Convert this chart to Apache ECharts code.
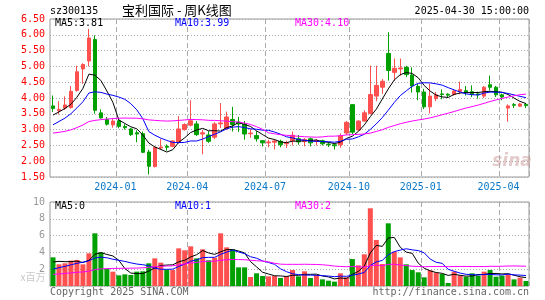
<!DOCTYPE html>
<html>
<head>
<meta charset="utf-8">
<script src="https://cdn.jsdelivr.net/npm/echarts@6/dist/echarts.min.js"></script>
<style>
html,body{margin:0;padding:0;background:#fff;}
#c{width:545px;height:300px;}
</style>
</head>
<body>
<div id="c"></div>
<script>
// ---- data (weekly K-line, 宝利国际 sz300135) ----
const dates = [
'2023-10-20','2023-10-27','2023-11-03','2023-11-10','2023-11-17','2023-11-24','2023-12-01','2023-12-08','2023-12-15','2023-12-22',
'2023-12-29','2024-01-05','2024-01-12','2024-01-19','2024-01-26','2024-02-02','2024-02-08','2024-02-23','2024-03-01','2024-03-08',
'2024-03-15','2024-03-22','2024-03-29','2024-04-03','2024-04-12','2024-04-19','2024-04-26','2024-04-30','2024-05-10','2024-05-17',
'2024-05-24','2024-05-31','2024-06-07','2024-06-14','2024-06-21','2024-06-28','2024-07-05','2024-07-12','2024-07-19','2024-07-26',
'2024-08-02','2024-08-09','2024-08-16','2024-08-23','2024-08-30','2024-09-06','2024-09-13','2024-09-20','2024-09-27','2024-09-30',
'2024-10-11','2024-10-18','2024-10-25','2024-11-01','2024-11-08','2024-11-15','2024-11-22','2024-11-29','2024-12-06','2024-12-13',
'2024-12-20','2024-12-27','2025-01-03','2025-01-10','2025-01-17','2025-01-24','2025-01-27','2025-02-07','2025-02-14','2025-02-21',
'2025-02-28','2025-03-07','2025-03-14','2025-03-21','2025-03-28','2025-04-03','2025-04-11','2025-04-18','2025-04-25','2025-04-30'];

const opens = [
3.75,3.60,3.68,3.70,4.24,4.92,5.17,5.85,3.53,3.32,
3.15,3.28,3.10,3.02,2.90,2.87,2.29,1.83,2.42,2.47,
2.47,2.60,3.00,3.14,3.18,2.86,2.83,2.76,3.18,3.04,
3.32,3.24,3.17,2.87,2.81,2.65,2.58,2.60,2.63,2.55,
2.65,2.71,2.62,2.71,2.62,2.65,2.54,2.52,2.52,2.89,
3.79,2.99,3.27,3.51,4.06,4.34,5.41,4.81,4.92,4.97,
4.73,4.37,4.19,3.72,3.98,4.13,4.12,4.11,4.21,4.23,
4.20,4.13,4.06,4.42,4.34,4.10,3.68,3.79,3.74,3.80];
const closes = [
3.67,3.64,3.78,4.21,4.83,5.06,5.90,3.61,3.37,3.17,
3.27,3.10,3.06,2.84,2.86,2.28,1.84,2.44,2.45,2.44,
2.64,3.02,3.16,3.28,2.84,2.90,2.63,3.18,3.21,3.40,
3.16,3.18,2.86,2.89,2.71,2.58,2.61,2.64,2.52,2.58,
2.82,2.61,2.69,2.58,2.65,2.55,2.52,2.49,2.80,3.23,
2.92,3.27,3.53,4.11,4.40,4.53,4.87,4.94,4.95,4.74,
4.38,4.19,3.72,4.06,4.10,4.11,4.09,4.22,4.27,4.17,
4.11,4.10,4.34,4.34,4.10,4.03,3.75,3.77,3.81,3.76];
const highs = [
4.08,3.90,4.05,4.38,5.02,5.10,6.19,5.98,3.64,3.40,
3.35,3.34,3.17,3.05,2.98,2.94,2.36,2.47,2.71,2.53,
2.66,3.43,3.20,3.93,3.27,2.99,2.95,3.24,3.84,3.57,
3.72,3.40,3.27,3.02,2.95,2.67,2.68,2.70,2.68,2.65,
2.94,2.83,2.73,2.75,2.70,2.68,2.60,2.57,2.88,3.27,
3.80,3.30,3.61,5.02,5.02,4.60,6.08,5.25,5.25,5.02,
4.97,4.45,4.29,4.45,4.19,4.27,4.15,4.27,4.52,4.38,
4.40,4.20,4.38,4.71,4.38,4.14,3.80,3.84,3.84,3.84];
const lows = [
3.56,3.48,3.62,3.66,4.20,4.45,5.00,3.50,3.35,3.13,
3.06,3.04,3.00,2.80,2.60,2.26,1.58,1.80,2.36,2.33,
2.44,2.56,2.97,3.10,2.80,2.22,2.58,2.70,3.05,2.99,
2.94,2.93,2.68,2.74,2.62,2.47,2.44,2.37,2.44,2.42,
2.50,2.52,2.47,2.47,2.50,2.50,2.45,2.37,2.42,2.83,
2.86,2.96,3.25,3.48,3.90,4.13,4.55,4.55,4.70,4.66,
4.17,3.93,3.65,3.51,3.90,3.96,4.00,4.08,4.12,4.08,
4.03,3.98,4.00,4.24,4.03,3.93,3.25,3.68,3.72,3.68];
// volume, 百万
const volumes = [
3.41,2.58,2.70,3.02,3.10,2.58,3.89,6.27,4.01,2.02,
1.71,1.27,1.39,1.31,1.71,1.75,2.70,3.29,2.78,1.94,
1.90,4.48,4.25,4.72,3.29,4.37,3.06,3.37,6.27,4.60,
4.37,2.22,2.22,1.07,1.51,1.19,1.15,1.19,0.95,1.19,
1.90,1.15,1.75,0.95,1.31,0.79,0.63,0.52,1.51,1.03,
3.21,2.46,3.77,9.25,5.48,2.62,7.46,4.09,3.41,2.58,
1.90,1.63,1.03,1.87,1.59,1.43,0.36,1.71,1.27,1.11,
1.51,1.23,1.71,1.90,1.11,1.23,1.39,0.79,0.99,0.60];
// weeks before the window (only used to seed the moving averages)
const priorCloses = [
2.92,2.85,2.78,2.70,2.62,2.58,2.55,2.63,2.68,2.73,
2.80,2.88,2.95,2.90,2.84,2.86,2.92,2.83,2.72,2.45,
2.58,2.70,2.82,2.98,3.12,3.14,3.23,3.55,3.71];
const priorVolumes = [
1.2,1.0,0.9,1.1,1.3,1.0,0.9,1.1,1.2,1.2,
1.0,1.1,0.9,1.2,1.0,0.9,1.3,1.1,1.0,1.1,
1.0,1.1,1.2,1.3,1.3,2.2,2.9,3.0,2.79];
const quarterMonths = ['01','04','07','10'];

// ---- derived ----
function movingAvg(prior, vals, n){
  const all = prior.concat(vals);
  const out = [];
  for(let i=prior.length;i<all.length;i++){
    if(i-n+1<0){out.push('-');continue;}
    let s=0; for(let k=i-n+1;k<=i;k++) s+=all[k];
    out.push(+(s/n).toFixed(3));
  }
  return out;
}
const labelIdx = [];
dates.forEach((d,i)=>{
  const m = d.slice(5,7);
  if(i>0 && m!==dates[i-1].slice(5,7) && quarterMonths.includes(m)) labelIdx.push(i);
});
const showAt = (i)=>labelIdx.indexOf(i)>=0;
const UP='#ff5050', DOWN='#00a000';
const kData = dates.map((d,i)=>[opens[i],closes[i],lows[i],highs[i]]);
const volData = volumes.map((v,i)=>({value:v,itemStyle:{color: closes[i]>=opens[i]?UP:DOWN}}));
const MONO='DejaVu Sans Mono';

const chart = echarts.init(document.getElementById('c'),null,{renderer:'canvas'});
const splitV = {show:true, interval:(i)=>showAt(i), lineStyle:{color:'#aaaaaa', width:1, type:[5,3]}};
function lineSeries(data,color,xi,yi){
  return {type:'line',xAxisIndex:xi,yAxisIndex:yi,data:data,symbol:'none',smooth:false,
    lineStyle:{width:1,color:color},itemStyle:{color:color},silent:true,z:5};
}
function txt(text,x,y,color,size,align,family){
  return {type:'text',x:x,y:y,silent:true,z:100,style:{text:text,fill:color,
    font:size+'px "'+(family||MONO)+'"',textAlign:align||'left',textVerticalAlign:'middle'}};
}
chart.setOption({
  animation:false,
  backgroundColor:'#ffffff',
  grid:[
    {left:50,right:16,top:19,height:158,show:true,borderColor:'#999999',borderWidth:1,backgroundColor:'transparent'},
    {left:50,right:16,top:202,height:84,show:true,borderColor:'#999999',borderWidth:1,backgroundColor:'transparent'}
  ],
  xAxis:[
    {type:'category',gridIndex:0,data:dates,boundaryGap:true,
     axisLine:{show:false},axisTick:{show:false},
     axisLabel:{interval:(i)=>showAt(i),formatter:(v)=>v.slice(0,7),color:'#0a78c8',
       fontFamily:MONO,fontSize:10,margin:5,padding:[0,7,0,0]},
     splitLine:splitV},
    {type:'category',gridIndex:1,data:dates,boundaryGap:true,
     axisLine:{show:false},axisTick:{show:false},axisLabel:{show:false},
     splitLine:splitV}
  ],
  yAxis:[
    {type:'value',gridIndex:0,min:1.5,max:6.5,interval:0.5,
     axisLine:{show:false},axisTick:{show:false},
     axisLabel:{color:'#ff0000',fontFamily:MONO,fontSize:10,margin:5,formatter:(v)=>v.toFixed(2)},
     splitLine:{show:true,lineStyle:{color:'#aaaaaa',width:1,type:[1,2]}}},
    {type:'value',gridIndex:1,min:0,max:10,interval:2,
     axisLine:{show:false},axisTick:{show:false},
     axisLabel:{color:'#999999',fontFamily:MONO,fontSize:10,margin:5,formatter:(v)=>v===0?'':String(v)},
     splitLine:{show:true,lineStyle:{color:'#aaaaaa',width:1,type:[1,2]}}}
  ],
  series:[
    {type:'candlestick',xAxisIndex:0,yAxisIndex:0,data:kData,barWidth:4,z:3,
     itemStyle:{color:UP,color0:DOWN,borderColor:UP,borderColor0:DOWN,borderWidth:1}},
    lineSeries(movingAvg(priorCloses,closes,5),'#000000',0,0),
    lineSeries(movingAvg(priorCloses,closes,10),'#0000ff',0,0),
    lineSeries(movingAvg(priorCloses,closes,30),'#ff00ff',0,0),
    {type:'bar',xAxisIndex:1,yAxisIndex:1,data:volData,barWidth:5,z:3},
    lineSeries(movingAvg(priorVolumes,volumes,5),'#000000',1,1),
    lineSeries(movingAvg(priorVolumes,volumes,10),'#0000ff',1,1),
    lineSeries(movingAvg(priorVolumes,volumes,30),'#ff00ff',1,1)
  ],
  graphic:[
    txt('sz300135',50,11,'#000000',10),
    txt('宝利国际 - 周K线图',122,10.5,'#000000',13,'left','Noto Sans CJK SC'),
    txt('2025-04-30 15:00:00',529,11.5,'#000000',10,'right'),
    txt('MA5:3.81',55,23.5,'#000000',10),
    txt('MA10:3.99',175,23.5,'#0000ff',10),
    txt('MA30:4.10',295,23.5,'#ff00ff',10),
    txt('MA5:0',55,206.7,'#000000',10),
    txt('MA10:1',175,206.7,'#0000ff',10),
    txt('MA30:2',295,206.7,'#ff00ff',10),
    txt('x百万',45.5,277,'#c8c8c8',10,'right','Noto Sans CJK SC'),
    txt('Copyright 2025 SINA.COM',50,292.5,'#666666',10),
    txt('http://finance.sina.com.cn',529,292.5,'#666666',10,'right'),
    {type:'text',x:512,y:162,silent:true,z:1,style:{text:'sina',fill:'rgba(205,160,160,0.55)',
      font:'italic bold 17px "DejaVu Sans"',textAlign:'center',textVerticalAlign:'middle'}}
  ]
});
</script>
</body>
</html>
